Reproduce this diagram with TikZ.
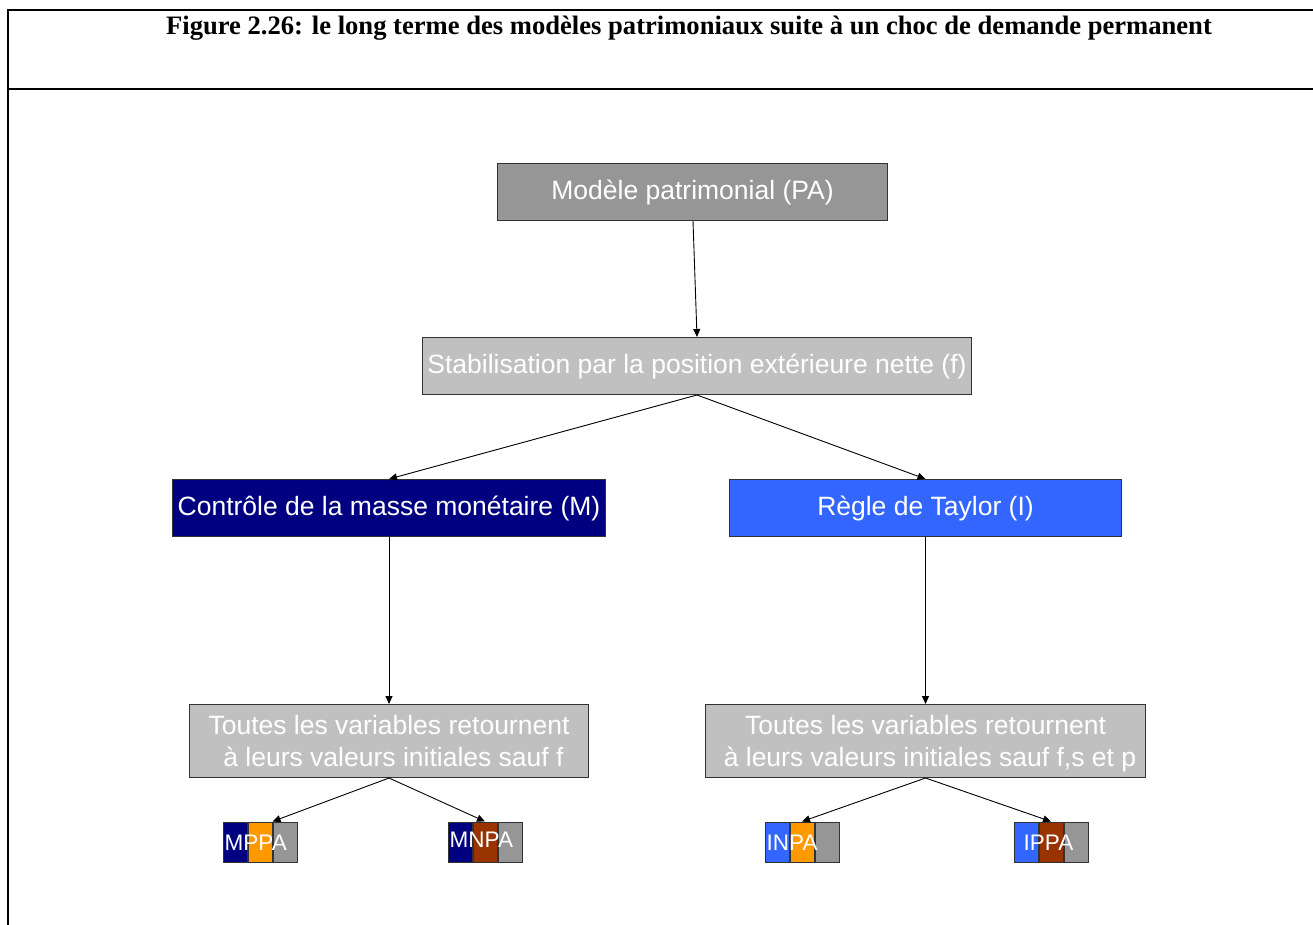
\documentclass[tikz,border=0pt]{standalone}
\usepackage{fontspec}
\setmainfont{Liberation Serif}
\setsansfont{Liberation Sans}
\usetikzlibrary{arrows.meta,calc}
\definecolor{pagray}{RGB}{150,150,150}
\definecolor{ltgray}{RGB}{192,192,192}
\definecolor{navyc}{RGB}{0,0,128}
\definecolor{bluec}{RGB}{51,102,255}
\definecolor{orangec}{RGB}{255,153,0}
\definecolor{brownc}{RGB}{153,51,0}
\definecolor{edgec}{RGB}{50,50,50}
\tikzset{
  box/.style={draw=edgec, line width=1pt, inner sep=0pt, text=white,
    font=\sffamily\fontsize{26.5}{32}\selectfont, align=center},
  seg/.style={draw=edgec, line width=1pt, inner sep=0pt, minimum width=24, minimum height=40},
  tag/.style={text=white, inner sep=0pt, anchor=west, font=\sffamily\fontsize{22.5}{26}\selectfont},
  conn/.style={draw=black, line width=0.9pt, -{Triangle[length=8,width=7]}},
  frame/.style={line width=2pt, black}
}
\begin{document}
\begin{tikzpicture}[x=1pt,y=-1pt]
\useasboundingbox (0,0) rectangle (1313,925);
% frame
\draw[frame] (1313,10) -- (8,10) -- (8,925);
\draw[frame] (8,89) -- (1313,89);
\node[inner sep=0pt, font=\rmfamily\bfseries\fontsize{26.6}{30}\selectfont] (title) at (689,28.5) {Figure 2.26: le long terme des modèles patrimoniaux suite à un choc de demande permanent};
% main boxes
\node[box, fill=pagray, minimum width=390, minimum height=57] (pa) at (692.5,192) {Modèle patrimonial (PA)};
\node[box, fill=ltgray, minimum width=549, minimum height=57] (stab) at (697,366) {Stabilisation par la position extérieure nette (f)};
\node[box, fill=navyc, minimum width=433, minimum height=57] (m) at (389,508) {Contrôle de la masse monétaire (M)};
\node[box, fill=bluec, minimum width=392, minimum height=57] (i) at (925.5,508) {Règle de Taylor (I)};
\node[box, fill=ltgray, minimum width=399, minimum height=73] (tl) at (389,741) {Toutes les variables retournent\\\hspace*{9pt}à leurs valeurs initiales sauf f};
\node[box, fill=ltgray, minimum width=440, minimum height=73] (tr) at (925.5,741) {Toutes les variables retournent\\\hspace*{9pt}à leurs valeurs initiales sauf f\smash{,}s et \smash{p}};
% small composite boxes
\node[seg, fill=navyc, anchor=north west] (mppa1) at (222.5,821.5) {};
\node[seg, fill=orangec, anchor=north west] (mppa2) at (mppa1.north east) {};
\node[seg, fill=pagray, anchor=north west] (mppa3) at (mppa2.north east) {};
\node[tag] (mppat) at ($(mppa1.west)+(2,1)$) {MPPA};
\node[seg, fill=navyc, anchor=north west] (mnpa1) at (447.5,821.5) {};
\node[seg, fill=brownc, anchor=north west] (mnpa2) at (mnpa1.north east) {};
\node[seg, fill=pagray, anchor=north west] (mnpa3) at (mnpa2.north east) {};
\node[tag] (mnpat) at ($(mnpa1.west)+(2,-2)$) {MNPA};
\node[seg, fill=bluec, anchor=north west] (inpa1) at (764.5,821.5) {};
\node[seg, fill=orangec, anchor=north west] (inpa2) at (inpa1.north east) {};
\node[seg, fill=pagray, anchor=north west] (inpa3) at (inpa2.north east) {};
\node[tag] (inpat) at ($(inpa1.west)+(2,1)$) {INPA};
\node[seg, fill=bluec, anchor=north west] (ippa1) at (1013.5,821.5) {};
\node[seg, fill=brownc, anchor=north west] (ippa2) at (ippa1.north east) {};
\node[seg, fill=pagray, anchor=north west] (ippa3) at (ippa2.north east) {};
\node[tag] (ippat) at ($(ippa1.west)+(10,1)$) {IPPA};
% connectors
\draw[conn] ($(pa.south)+(0.5,0)$) -- (stab.north);
\draw[conn] (stab.south) -- (m.north);
\draw[conn] (stab.south) -- (i.north);
\draw[conn] (m.south) -- (tl.north);
\draw[conn] (i.south) -- (tr.north);
\draw[conn] (tl.south) -- (mppa2.north east);
\draw[conn] (tl.south) -- (mnpa2.north);
\draw[conn] (tr.south) -- (inpa2.north);
\draw[conn] (tr.south) -- (ippa2.north);
\end{tikzpicture}
\end{document}
